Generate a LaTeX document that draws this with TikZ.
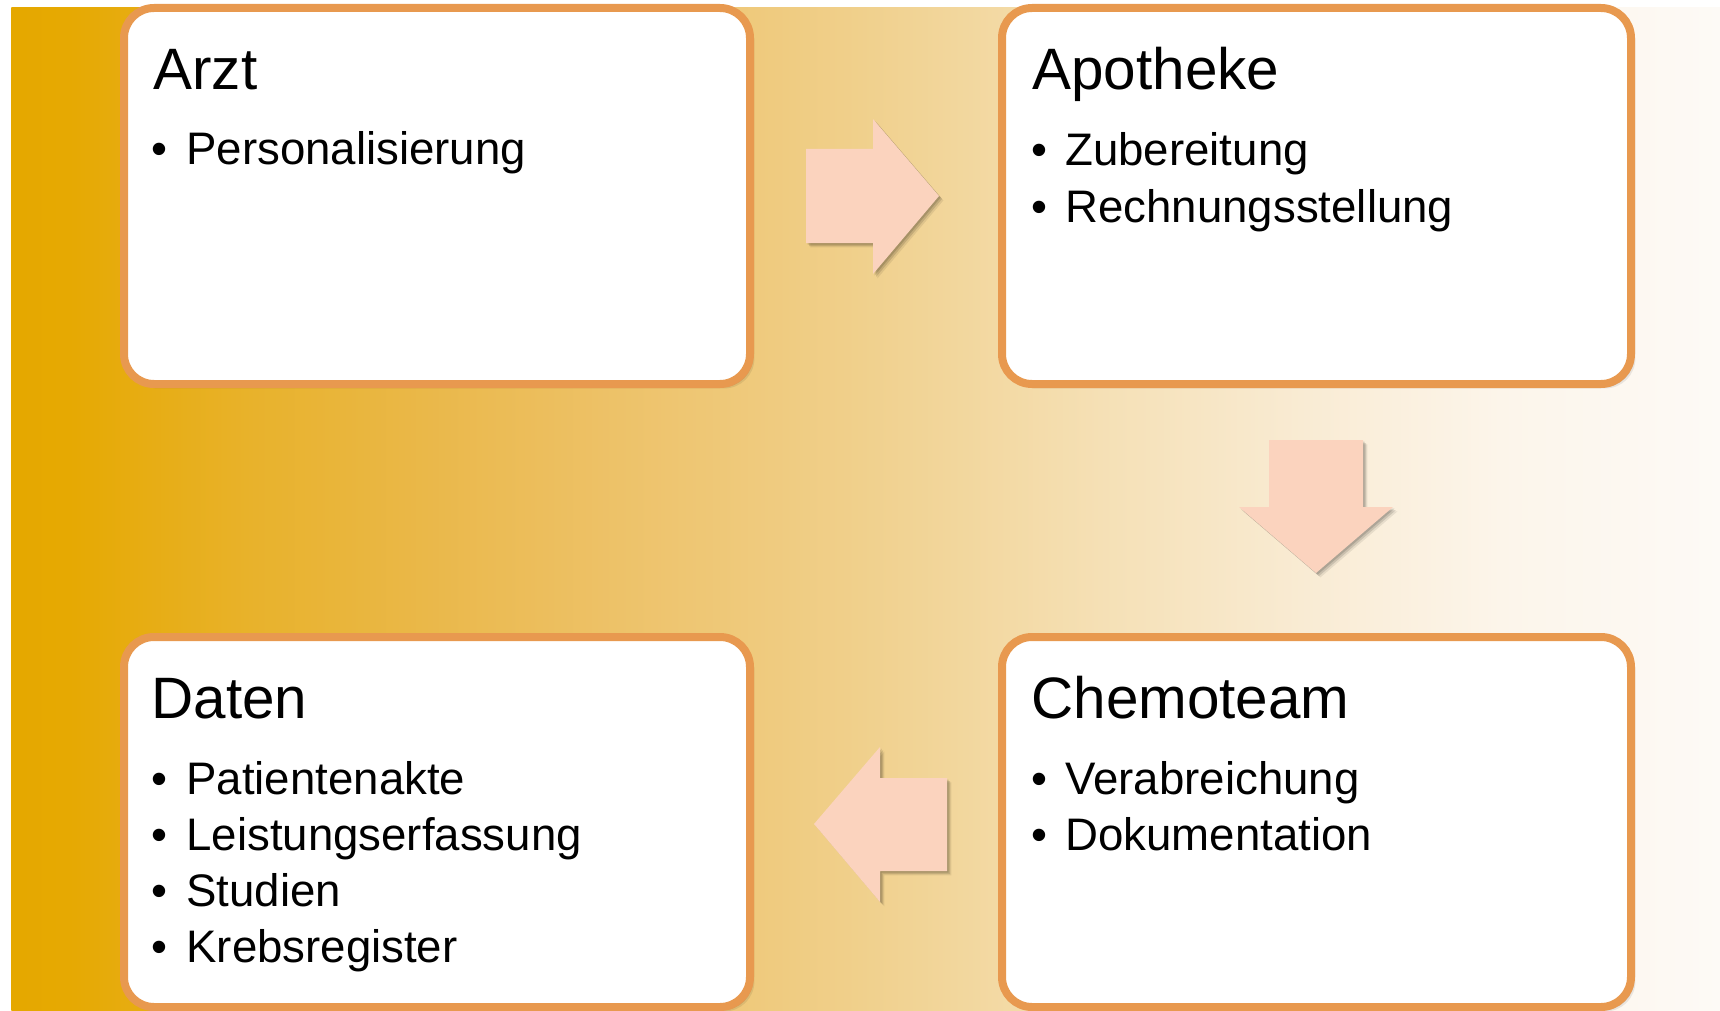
\documentclass[tikz,border=0pt]{standalone}
\usepackage{fontspec}
\setmainfont{Liberation Sans}
\usetikzlibrary{shadows}
\definecolor{bordc}{HTML}{E8994F}
\definecolor{arrc}{HTML}{FBD3BE}
\definecolor{g0}{HTML}{E5A800}
\definecolor{g1}{HTML}{E6A902}
\definecolor{g2}{HTML}{E8B22B}
\definecolor{g3}{HTML}{EAB84A}
\definecolor{g4}{HTML}{EDC166}
\definecolor{g5}{HTML}{F0D08C}
\definecolor{g6}{HTML}{F5E0B5}
\definecolor{g7}{HTML}{F9EBD3}
\definecolor{g8}{HTML}{FCF5EA}
\definecolor{g9}{HTML}{FDFAF6}
\tikzset{
  softshadow/.style={
    drop shadow={shadow xshift=2.2pt, shadow yshift=-2.2pt, opacity=0.08, fill=black},
    drop shadow={shadow xshift=1.5pt, shadow yshift=-1.5pt, opacity=0.12, fill=black},
    drop shadow={shadow xshift=0.8pt, shadow yshift=-0.8pt, opacity=0.14, fill=black}},
  box/.style={draw=bordc, line width=4pt, fill=white, rounded corners=15pt,
    inner sep=0pt, outer sep=0pt, softshadow},
  blockarrow/.style={fill=arrc, softshadow},
  ttl/.style={anchor=base west, inner sep=0pt, font=\fontsize{29.2pt}{34pt}\selectfont},
  itm/.style={anchor=base west, inner sep=0pt, font=\fontsize{22.8pt}{27pt}\selectfont},
}
\begin{document}
\begin{tikzpicture}[x=0.5pt, y=-0.5pt]
\useasboundingbox (0,0) rectangle (1720,1011);
% background gradient
\foreach \xa/\xb/\ca/\cb in {12/70/g0/g1, 70/250/g1/g2, 250/430/g2/g3, 430/600/g3/g4, 600/860/g4/g5, 860/1100/g5/g6, 1100/1300/g6/g7, 1300/1500/g7/g8, 1500/1720/g8/g9}{
  \shade[left color=\ca, right color=\cb] (\xa-0.6,8) rectangle (\xb+0.6,1011);
}
% boxes
\node[box, minimum width=313pt, minimum height=188pt] (arzt) at (437,196) {};
\node[box, minimum width=314.5pt, minimum height=188pt] (apo) at (1316.5,196) {};
\node[box, minimum width=313pt, minimum height=185pt] (daten) at (437,822) {};
\node[box, minimum width=314.5pt, minimum height=185pt] (chemo) at (1316.5,822) {};
% arrows
\fill[blockarrow] (806,149) -- (873,149) -- (873,119) -- (939,196) -- (873,274) -- (873,243) -- (806,243) -- cycle;
\fill[blockarrow] (1269,440) -- (1363,440) -- (1363,507) -- (1393,507) -- (1316,573) -- (1239,507) -- (1269,507) -- cycle;
\fill[blockarrow] (947,778) -- (880,778) -- (880,747) -- (814,824) -- (880,902) -- (880,871) -- (947,871) -- cycle;
% Arzt
\node[ttl] (arztT) at (153,90) {Arzt};
\node[itm] (arztB1) at (151,165) {•};
\node[itm] (arztI1) at (186,165) {Personalisierung};
% Apotheke
\node[ttl] (apoT) at (1032,90) {Apotheke};
\node[itm] (apoB1) at (1031,166) {•};
\node[itm] (apoI1) at (1065,166) {Zubereitung};
\node[itm] (apoB2) at (1031,222) {•};
\node[itm] (apoI2) at (1065,222) {Rechnungsstellung};
% Daten
\node[ttl] (datenT) at (151,718) {Daten};
\node[itm] (datenB1) at (151,794) {•};
\node[itm] (datenI1) at (186,794) {Patientenakte};
\node[itm] (datenB2) at (151,850) {•};
\node[itm] (datenI2) at (186,850) {Leistungserfassung};
\node[itm] (datenB3) at (151,906) {•};
\node[itm] (datenI3) at (186,906) {Studien};
\node[itm] (datenB4) at (151,962) {•};
\node[itm] (datenI4) at (186,962) {Krebsregister};
% Chemoteam
\node[ttl] (chemoT) at (1031,718) {Chemoteam};
\node[itm] (chemoB1) at (1031,794) {•};
\node[itm] (chemoI1) at (1065,794) {Verabreichung};
\node[itm] (chemoB2) at (1031,850) {•};
\node[itm] (chemoI2) at (1065,850) {Dokumentation};
\end{tikzpicture}
\end{document}
